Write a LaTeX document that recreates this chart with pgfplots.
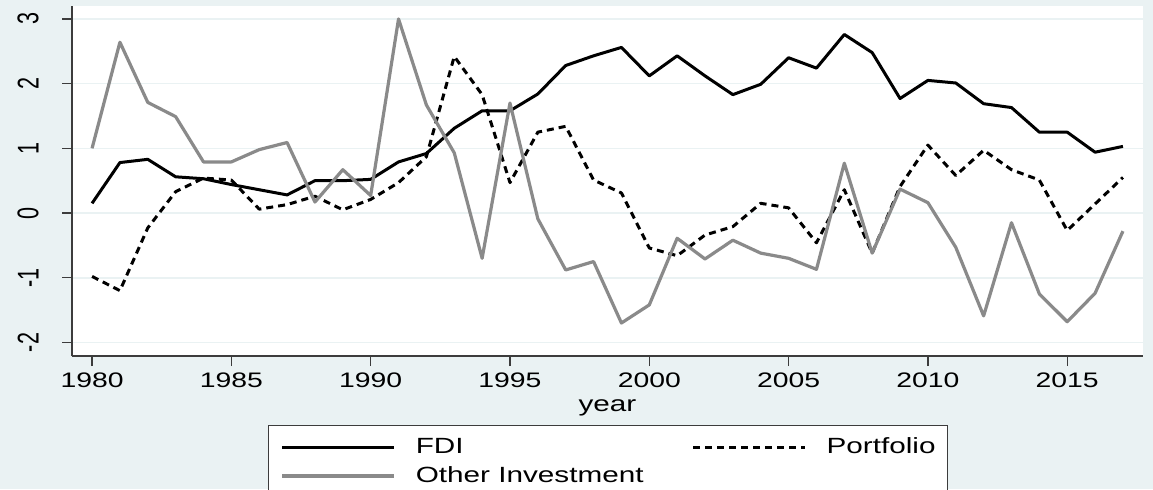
\documentclass[border=0pt]{standalone}
\usepackage{pgfplots}
\pgfplotsset{compat=1.18}
\usepackage{fontspec}
\setmainfont{Liberation Sans}[FakeStretch=1.35]
\newfontfamily\narrowsans{Liberation Sans}[FakeStretch=0.72]
\definecolor{bgc}{RGB}{234,242,243}
\definecolor{oigray}{RGB}{138,138,138}
\definecolor{axc}{RGB}{60,60,60}

\pgfplotstableread{
year fdi port oth
1980 0.15 -0.98 1.00
1981 0.78 -1.20 2.64
1982 0.83 -0.23 1.71
1983 0.56 0.33 1.49
1984 0.53 0.54 0.79
1985 0.44 0.51 0.79
1986 0.36 0.06 0.98
1987 0.28 0.13 1.09
1988 0.50 0.26 0.17
1989 0.50 0.05 0.67
1990 0.52 0.21 0.27
1991 0.79 0.47 3.00
1992 0.92 0.87 1.67
1993 1.31 2.42 0.93
1994 1.58 1.83 -0.70
1995 1.58 0.47 1.70
1996 1.84 1.25 -0.09
1997 2.28 1.34 -0.88
1998 2.43 0.51 -0.75
1999 2.56 0.31 -1.70
2000 2.12 -0.54 -1.42
2001 2.43 -0.66 -0.39
2002 2.12 -0.34 -0.71
2003 1.83 -0.21 -0.42
2004 1.99 0.15 -0.62
2005 2.40 0.08 -0.70
2006 2.24 -0.46 -0.87
2007 2.76 0.36 0.77
2008 2.48 -0.62 -0.62
2009 1.77 0.41 0.37
2010 2.05 1.05 0.16
2011 2.01 0.58 -0.53
2012 1.69 0.97 -1.59
2013 1.63 0.67 -0.15
2014 1.25 0.51 -1.25
2015 1.25 -0.27 -1.68
2016 0.94 0.14 -1.24
2017 1.03 0.55 -0.28
}\datatable

\begin{document}
\begin{tikzpicture}
\useasboundingbox (0,0) rectangle (576.5pt,244.5pt);
\fill[bgc] (0,0) rectangle (576.5pt,244.5pt);
\begin{axis}[
  at={(36pt,66.5pt)}, anchor=south west,
  scale only axis, width=535.5pt, height=175pt,
  xmin=1979.28, xmax=2017.72, ymin=-2.21, ymax=3.2,
  axis background/.style={fill=white},
  axis x line*=bottom, axis y line*=left,
  axis line style={axc, line width=0.6pt, -},
  xtick={1980,1985,1990,1995,2000,2005,2010,2015},
  xticklabels={1980,1985,1990,1995,2000,2005,2010,2015},
  ytick={-2,-1,0,1,2,3},
  yticklabels={-2,-1,0,1,2,3},
  tick align=outside, major tick length=5pt,
  tick style={axc, line width=0.6pt},
  ymajorgrids, grid style={bgc, line width=0.8pt},
  xticklabel style={font=\fontsize{10.5}{12}\selectfont, text=black},
  yticklabel style={font=\narrowsans\fontsize{15}{16}\selectfont, text=black, rotate=90, anchor=south, inner sep=0pt},
  yticklabel shift=11.5pt,
  xlabel={year},
  xlabel style={font=\fontsize{11}{12}\selectfont, inner sep=0pt, yshift=-2.5pt},
  legend columns=2,
  legend cell align=left,
  legend image code/.code={\draw[#1] (0pt,0pt) -- (56pt,0pt);},
  legend style={at={(0.183,-0.197)}, anchor=north west, draw=axc, line width=0.6pt,
    fill=white, font=\fontsize{11}{12}\selectfont, inner xsep=6pt, inner ysep=6pt,
    row sep=5pt,
    nodes={inner sep=0pt},
    /tikz/every odd column/.append style={column sep=10pt},
    /tikz/every even column/.append style={column sep=24pt}},
]
\addplot[black, line width=1.5pt, line join=round] table[x=year,y=fdi] {\datatable};
\addlegendentry{FDI}
\addplot[black, line width=1.5pt, line join=round, dash pattern=on 3.5pt off 2.5pt] table[x=year,y=port] {\datatable};
\addlegendentry{Portfolio}
\addplot[oigray, line width=1.6pt, line join=round] table[x=year,y=oth] {\datatable};
\addlegendentry{Other Investment}
\end{axis}
\end{tikzpicture}
\end{document}
